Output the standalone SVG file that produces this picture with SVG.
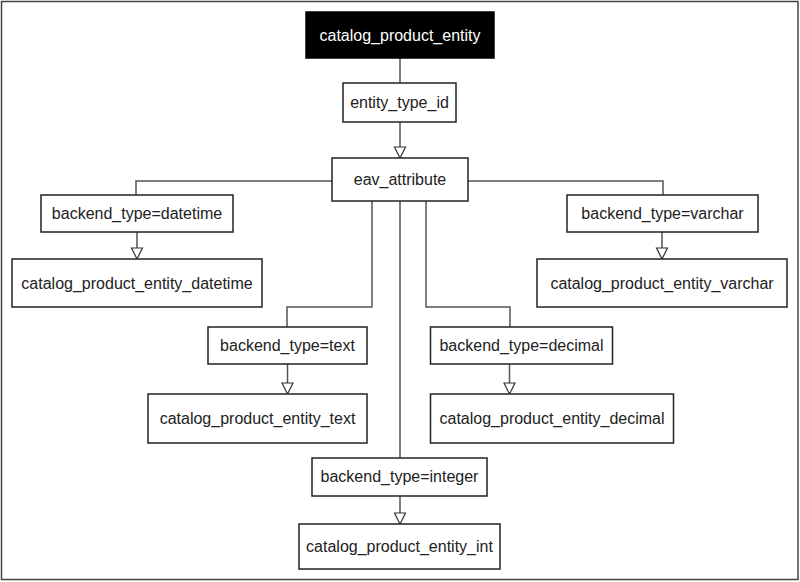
<svg xmlns="http://www.w3.org/2000/svg" width="800" height="582" viewBox="0 0 800 582">
<defs>
<style>
.box{fill:#fff;stroke:#222;stroke-width:1.5}
.dark{fill:#000;stroke:#000;stroke-width:1.5}
.t{font-family:"Liberation Sans",Arial,sans-serif;font-size:16px;fill:#222;text-anchor:middle}
.tw{fill:#fff}
.c{fill:none;stroke:#555;stroke-width:1.5}
.ah{fill:#fff;stroke:#333;stroke-width:1.2}
</style>
</defs>
<rect x="0" y="0" width="800" height="582" fill="#fff"/>
<rect x="1.5" y="1.5" width="796.5" height="578" fill="none" stroke="#444" stroke-width="1.5"/>
<g id="connectors">
<path class="c" d="M400 58 V83"/>
<path class="c" d="M400 122 V147"/>
<polygon class="ah" points="394.5,147 405.5,147 400,158"/>
<path class="c" d="M332 181 H136 V195"/>
<path class="c" d="M468 181 H663 V195"/>
<path class="c" d="M137 232 V248"/>
<polygon class="ah" points="131.5,248 142.5,248 137,259"/>
<path class="c" d="M662 232 V248"/>
<polygon class="ah" points="656.5,248 667.5,248 662,259"/>
<path class="c" d="M372 201 V307 H287 V327"/>
<path class="c" d="M426 201 V307 H510 V327"/>
<path class="c" d="M400 201 V458"/>
<path class="c" d="M287.5 364 V383"/>
<polygon class="ah" points="282,383 293,383 287.5,394"/>
<path class="c" d="M509.5 364 V383"/>
<polygon class="ah" points="504,383 515,383 509.5,394"/>
<path class="c" d="M400 496 V513"/>
<polygon class="ah" points="394.5,513 405.5,513 400,524"/>
</g>
<g id="catalog_product_entity">
<rect class="dark" x="306" y="12" width="188" height="46"/>
<text class="t tw" x="400" y="40.5">catalog_product_entity</text>
</g>
<g id="entity_type_id">
<rect class="box" x="343" y="83" width="113" height="39"/>
<text class="t" x="399.5" y="108">entity_type_id</text>
</g>
<g id="eav_attribute">
<rect class="box" x="332" y="158" width="136" height="43"/>
<text class="t" x="400" y="185">eav_attribute</text>
</g>
<g id="bt_datetime">
<rect class="box" x="41" y="195" width="192" height="37"/>
<text class="t" x="137" y="219">backend_type=datetime</text>
</g>
<g id="cpe_datetime">
<rect class="box" x="12" y="259" width="250" height="48"/>
<text class="t" x="137" y="289">catalog_product_entity_datetime</text>
</g>
<g id="bt_varchar">
<rect class="box" x="567" y="195" width="191" height="37"/>
<text class="t" x="662.5" y="219">backend_type=varchar</text>
</g>
<g id="cpe_varchar">
<rect class="box" x="537" y="259" width="250" height="48"/>
<text class="t" x="662" y="289">catalog_product_entity_varchar</text>
</g>
<g id="bt_text">
<rect class="box" x="208" y="327" width="159" height="37"/>
<text class="t" x="287.5" y="351">backend_type=text</text>
</g>
<g id="cpe_text">
<rect class="box" x="148" y="394" width="219" height="49"/>
<text class="t" x="257.5" y="424">catalog_product_entity_text</text>
</g>
<g id="bt_decimal">
<rect class="box" x="430.5" y="327" width="182" height="37"/>
<text class="t" x="521.5" y="351">backend_type=decimal</text>
</g>
<g id="cpe_decimal">
<rect class="box" x="430.5" y="394" width="243" height="49"/>
<text class="t" x="552" y="424">catalog_product_entity_decimal</text>
</g>
<g id="bt_integer">
<rect class="box" x="312" y="458" width="175" height="38"/>
<text class="t" x="399.5" y="482">backend_type=integer</text>
</g>
<g id="cpe_int">
<rect class="box" x="299" y="524" width="201" height="45"/>
<text class="t" x="399.5" y="552">catalog_product_entity_int</text>
</g>
</svg>
